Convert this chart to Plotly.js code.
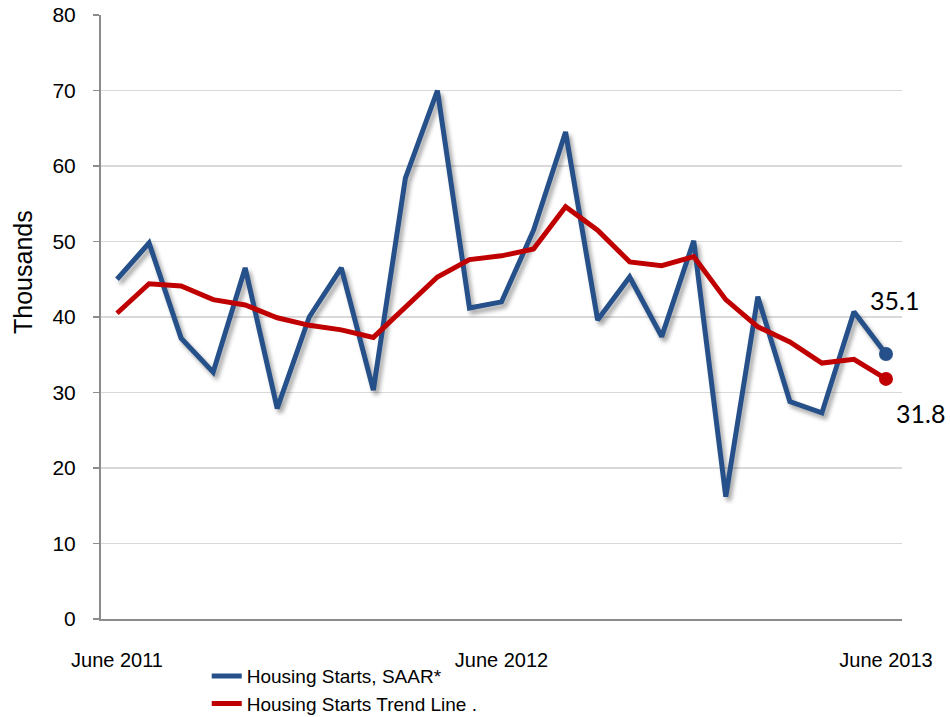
<!DOCTYPE html>
<html>
<head>
<meta charset="utf-8">
<script src="https://cdn.plot.ly/plotly-3.0.1.min.js"></script>
<style>
html,body{margin:0;padding:0;background:#fff;}
#chart{width:950px;height:717px;}
.scatterlayer .trace:first-child path.js-line{filter:drop-shadow(3px 4px 2px rgba(0,0,0,0.35));}
</style>
</head>
<body>
<div id="chart"></div>
<script>
var months = ["Jun 2011","Jul 2011","Aug 2011","Sep 2011","Oct 2011","Nov 2011","Dec 2011",
  "Jan 2012","Feb 2012","Mar 2012","Apr 2012","May 2012","Jun 2012","Jul 2012","Aug 2012",
  "Sep 2012","Oct 2012","Nov 2012","Dec 2012","Jan 2013","Feb 2013","Mar 2013","Apr 2013",
  "May 2013","Jun 2013"];
var housingStarts = [45.0,49.8,37.2,32.7,46.5,27.9,40.0,46.5,30.3,58.4,70.0,41.2,42.0,51.5,64.5,
  39.6,45.3,37.4,50.1,16.2,42.7,28.8,27.3,40.7,35.1];
var trendLine = [40.5,44.4,44.1,42.3,41.6,39.9,38.9,38.3,37.3,41.3,45.3,47.6,48.1,49.0,54.6,
  51.5,47.3,46.8,48.0,42.3,38.7,36.7,33.9,34.4,31.8];
var tickIdx = [0,12,24];
var tickLabels = ["June 2011","June 2012","June 2013"];
var seriesNames = ["Housing Starts, SAAR*","Housing Starts Trend Line ."];
var yTitle = "Thousands";

var idx = months.map(function(_, i){ return i; });
var last = idx.length - 1;

var traces = [
  {x: idx, y: housingStarts, type:'scatter', mode:'lines', name: seriesNames[0],
   line:{color:'#26508a', width:5}, hoverinfo:'skip'},
  {x: idx, y: trendLine, type:'scatter', mode:'lines', name: seriesNames[1],
   line:{color:'#c00000', width:5}, hoverinfo:'skip'},
  {x: [idx[last]], y: [housingStarts[last]], type:'scatter', mode:'markers', showlegend:false,
   marker:{color:'#26508a', size:14}},
  {x: [idx[last]], y: [trendLine[last]], type:'scatter', mode:'markers', showlegend:false,
   marker:{color:'#c00000', size:14}}
];

var layout = {
  width:950, height:717,
  margin:{l:101, r:48, t:15, b:98, autoexpand:false},
  paper_bgcolor:'#fff', plot_bgcolor:'#fff',
  font:{family:'Liberation Sans, Arial, sans-serif', color:'#000', size:19},
  showlegend:true,
  legend:{x:0.132, y:-0.063, xanchor:'left', yanchor:'top', orientation:'v',
    font:{size:19, family:'Liberation Sans, Arial, sans-serif'}, tracegroupgap:0,
    bgcolor:'rgba(0,0,0,0)'},
  xaxis:{range:[-0.5, 24.5], tickmode:'array', tickvals:tickIdx, ticktext:tickLabels,
    showgrid:false, zeroline:false, showline:true, linecolor:'#8c8c8c', linewidth:2,
    ticks:'', ticklabelstandoff:22, tickfont:{size:20}, fixedrange:true},
  yaxis:{range:[0,80], dtick:10, tick0:0, showgrid:true, gridcolor:'#d9d9d9', gridwidth:1.5,
    zeroline:false, showline:true, linecolor:'#8c8c8c', linewidth:2,
    ticks:'outside', ticklen:6, tickcolor:'#8c8c8c', tickwidth:1.5, tickfont:{size:21},
    ticklabelstandoff:13},
  annotations:[
    {xref:'paper', yref:'paper', x:-0.0974, y:0.5745, text:yTitle, textangle:-90,
     showarrow:false, xanchor:'center', yanchor:'middle',
     font:{size:25, family:'Liberation Sans, Arial, sans-serif', color:'#000'}},
    {x: idx[last], y: housingStarts[last], text: housingStarts[last].toFixed(1), showarrow:false,
     xshift:9, yshift:54, font:{family:'Lato, sans-serif', size:25, color:'#000'}},
    {x: idx[last], y: trendLine[last], text: trendLine[last].toFixed(1), showarrow:false,
     xshift:35, yshift:-34, font:{family:'Lato, sans-serif', size:25, color:'#000'}}
  ]
};

Plotly.newPlot('chart', traces, layout, {displayModeBar:false, staticPlot:true});
</script>
</body>
</html>
